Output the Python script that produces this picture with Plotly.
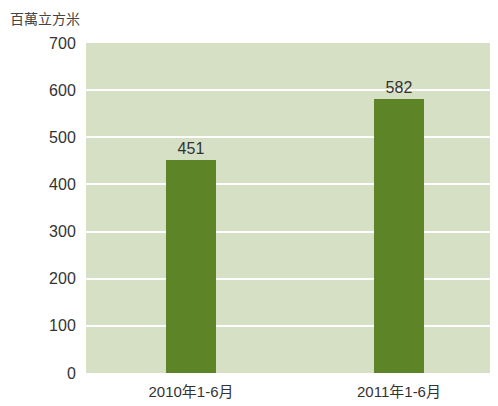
import plotly.graph_objects as go

categories = ["2010年1-6月", "2011年1-6月"]
values = [451, 582]
y_ticks = [0, 100, 200, 300, 400, 500, 600, 700]
unit_label = "百萬立方米"

font_fam = "Liberation Sans Narrow, Arial Narrow, Liberation Sans, Noto Sans CJK TC, sans-serif"

W, H = 490, 398
ml, mt, mb, mr = 78, 35, 33, 0
pw, ph = W - ml - mr, H - mt - mb
# category spacing 208 px, first centre 105 px from the plot's left edge
span = pw / 208.0
x0 = -105.0 / 208.0

fig = go.Figure(go.Bar(
    x=[0, 1], y=values,
    marker_color="#5d8427", marker_line_width=0,
    width=0.24,
    text=[str(v) for v in values], textposition="outside",
    textfont=dict(size=16, color="#333333", family=font_fam),
    cliponaxis=False,
))

fig.update_layout(
    width=W, height=H,
    margin=dict(l=ml, r=mr, t=mt, b=mb, pad=0),
    paper_bgcolor="white",
    plot_bgcolor="#d6e0c5",
    font=dict(family=font_fam, size=16, color="#333333"),
    showlegend=False,
    bargap=0,
    xaxis=dict(showgrid=False, zeroline=False, ticks="outside", ticklen=5,
               tickcolor="rgba(0,0,0,0)", tickfont=dict(size=15),
               tickvals=[0, 1], ticktext=categories, range=[x0, x0 + span],
               automargin=False),
    yaxis=dict(range=[0, 700], tickvals=y_ticks, gridcolor="white", gridwidth=1.5,
               zeroline=False, ticks="outside", ticklen=6, tickcolor="rgba(0,0,0,0)",
               showline=False, automargin=False),
    annotations=[dict(text=unit_label, x=-ml / pw, y=1 + (mt - 10) / ph,
                      xref="paper", yref="paper",
                      xanchor="left", yanchor="middle", showarrow=False,
                      font=dict(size=14, color="#444444",
                                family="Noto Sans CJK TC, sans-serif"))],
)

fig.write_html("out.html")
